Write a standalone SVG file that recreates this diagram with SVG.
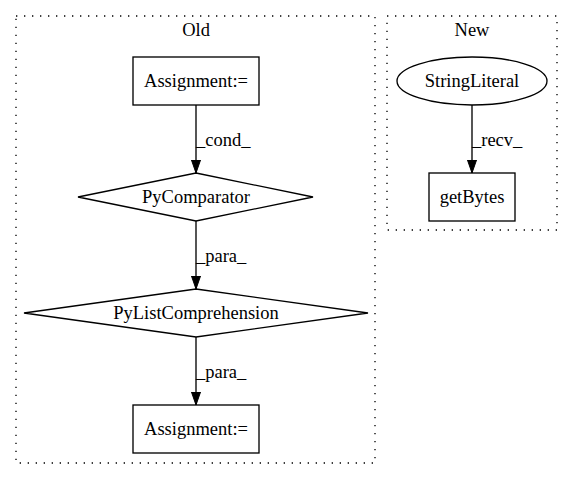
<svg xmlns="http://www.w3.org/2000/svg" width="573" height="480" viewBox="0 0 573 480">
<defs>
<style>
text{font-family:"Liberation Serif","Times New Roman",serif;font-size:18.5px;fill:#000}
.c{text-anchor:middle}
.n{fill:none;stroke:#000;stroke-width:1.33}
.cl{fill:none;stroke:#000;stroke-width:1.33;stroke-dasharray:1.33,6.67}
.e{fill:none;stroke:#000;stroke-width:1.33}
</style>
<marker id="ah" markerWidth="14" markerHeight="10" refX="13.3" refY="4.65" orient="auto" markerUnits="userSpaceOnUse">
<polygon points="0,0 13.3,4.65 0,9.3" fill="#000" stroke="#000" stroke-width="1"/>
</marker>
</defs>
<rect width="573" height="480" fill="#fff"/>
<g id="cluster_old">
<rect class="cl" x="16" y="16" width="359" height="447"/>
<text class="c" x="196" y="36">Old</text>
</g>
<g id="cluster_new">
<rect class="cl" x="387" y="16" width="170" height="214"/>
<text class="c" x="472" y="36">New</text>
</g>
<g id="n_assign1">
<rect class="n" x="133" y="57" width="126" height="48"/>
<text class="c" x="196" y="87">Assignment:=</text>
</g>
<g id="n_pycomp">
<polygon class="n" points="196,173 313,197 196,221 78,197"/>
<text class="c" x="196" y="203">PyComparator</text>
</g>
<g id="n_pylist">
<polygon class="n" points="196,289 368,313 196,337 24,313"/>
<text class="c" x="196" y="319">PyListComprehension</text>
</g>
<g id="n_assign2">
<rect class="n" x="133" y="405" width="126" height="48"/>
<text class="c" x="196" y="435">Assignment:=</text>
</g>
<g id="n_string">
<ellipse class="n" cx="472" cy="81" rx="75" ry="24"/>
<text class="c" x="472" y="87">StringLiteral</text>
</g>
<g id="n_getbytes">
<rect class="n" x="429" y="173" width="86" height="48"/>
<text class="c" x="472" y="203">getBytes</text>
</g>
<g id="edges">
<path class="e" d="M196,105 L196,173" marker-end="url(#ah)"/>
<text x="196" y="146">_cond_</text>
<path class="e" d="M196,221 L196,289" marker-end="url(#ah)"/>
<text x="196" y="262">_para_</text>
<path class="e" d="M196,337 L196,405" marker-end="url(#ah)"/>
<text x="196" y="378">_para_</text>
<path class="e" d="M472,105 L472,173" marker-end="url(#ah)"/>
<text x="472" y="146">_recv_</text>
</g>
</svg>
